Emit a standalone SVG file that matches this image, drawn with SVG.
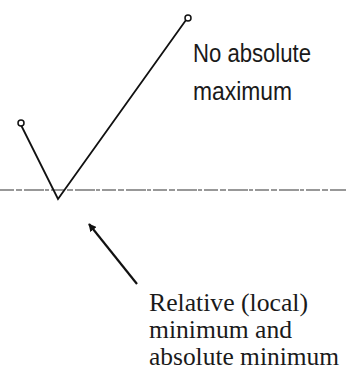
<svg xmlns="http://www.w3.org/2000/svg" width="346" height="375" viewBox="0 0 346 375">
  <style>
    .curve { fill: none; stroke: #111; stroke-width: 1.8; stroke-linejoin: miter; }
    .open { fill: #fff; stroke: #111; stroke-width: 1.5; }
    .axis { stroke: #333; stroke-width: 1.1; stroke-dasharray: 14 2 6 2 20 1 4 2; }
    .sans { font-family: "Liberation Sans", Arial, sans-serif; font-size: 25px; fill: #1a1a1a; }
    .serif { font-family: "Liberation Serif", "Times New Roman", serif; font-size: 25px; fill: #1a1a1a; }
  </style>
  <defs>
    <marker id="ah" viewBox="0 0 10 10" refX="9" refY="5" markerWidth="8" markerHeight="8" orient="auto" markerUnits="userSpaceOnUse">
      <path d="M0,0 L10,5 L0,10 Z" fill="#111"/>
    </marker>
  </defs>
  <rect width="346" height="375" fill="#fff"/>
  <g id="axis">
    <line class="axis" x1="0" y1="190" x2="346" y2="190"/>
  </g>
  <g id="graph">
    <polyline class="curve" points="21,125 58,199 186,20"/>
    <circle class="open" cx="21" cy="123" r="3"/>
    <circle class="open" cx="188" cy="18" r="3"/>
  </g>
  <g id="label-max">
    <text class="sans" x="193" y="62" textLength="118" lengthAdjust="spacingAndGlyphs">No absolute</text>
    <text class="sans" x="193" y="100" textLength="99" lengthAdjust="spacingAndGlyphs">maximum</text>
  </g>
  <g id="connectors">
    <line x1="137" y1="284" x2="89" y2="224" stroke="#111" stroke-width="2.2" marker-end="url(#ah)"/>
  </g>
  <g id="label-min">
    <text class="serif" x="149" y="311" textLength="159" lengthAdjust="spacingAndGlyphs">Relative (local)</text>
    <text class="serif" x="149" y="338" textLength="143" lengthAdjust="spacingAndGlyphs">minimum and</text>
    <text class="serif" x="149" y="365" textLength="190" lengthAdjust="spacingAndGlyphs">absolute minimum</text>
  </g>
</svg>
